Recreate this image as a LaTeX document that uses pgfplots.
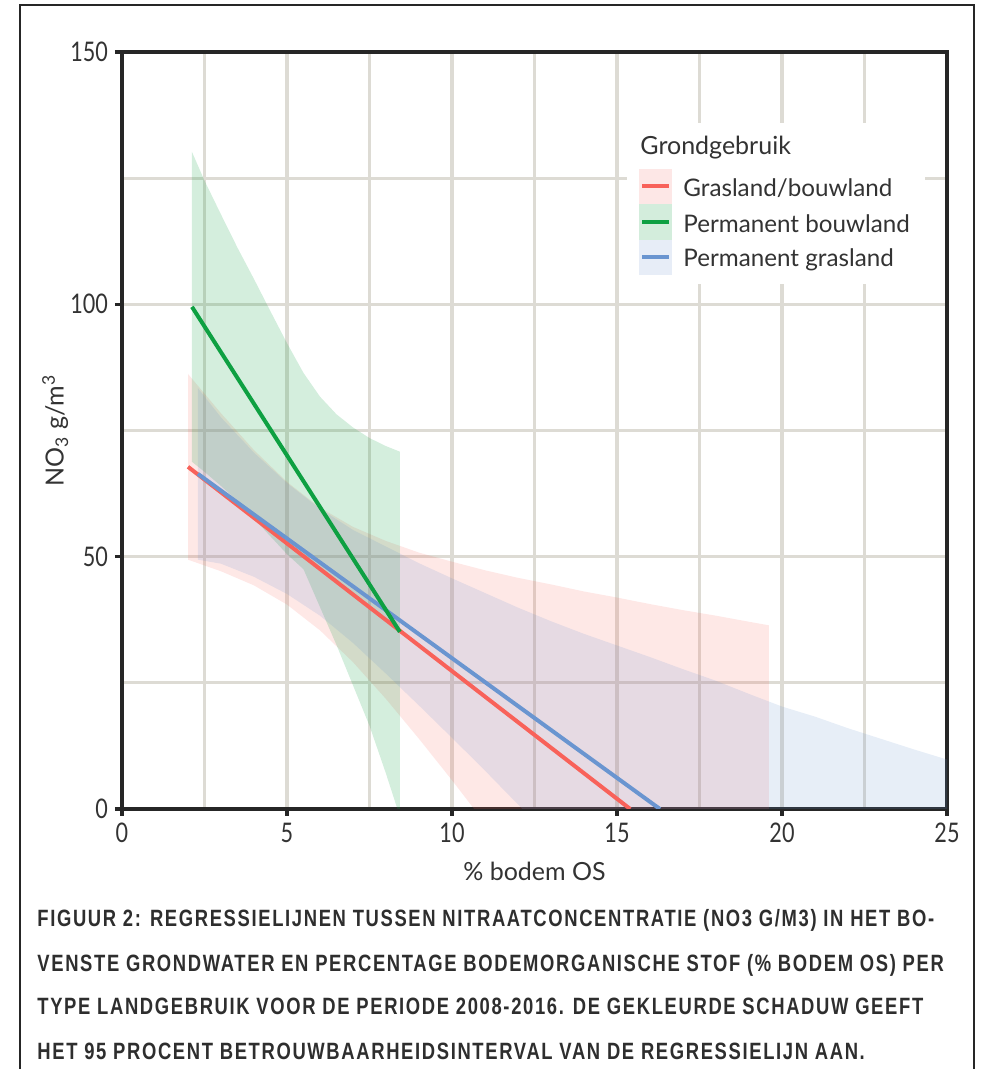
\documentclass[border=0pt]{standalone}
\usepackage{fontspec}
\setmainfont{Lato}
\newfontfamily\numfont[FakeStretch=0.8]{Lato}
\newfontfamily\capfont[FakeStretch=0.78,LetterSpace=7]{Liberation Sans}
\usepackage{pgfplots}
\pgfplotsset{compat=1.18}

\definecolor{gridc}{RGB}{221,219,212}
\definecolor{cRed}{RGB}{248,98,90}
\definecolor{cGreen}{RGB}{14,160,66}
\definecolor{cBlue}{RGB}{106,149,208}
\definecolor{txt}{RGB}{51,51,51}

\begin{document}
\begin{tikzpicture}
\useasboundingbox (0,0) rectangle (492pt,534.5pt);
% frame round the figure
\draw[line width=1pt, black!85] (10pt,0) -- (10pt,532pt) -- (487pt,532pt) -- (487pt,0);

\begin{axis}[
    at={(61pt,130pt)}, anchor=south west,
    width=412.5pt, height=378.5pt, scale only axis,
    xmin=0, xmax=25, ymin=0, ymax=150,
    xtick={0,5,...,25}, ytick={0,50,100,150},
    minor xtick={2.5,7.5,...,22.5}, minor ytick={25,75,125},
    grid=both,
    major grid style={gridc, line width=1.6pt},
    minor grid style={gridc, line width=1.6pt},
    axis line style={line width=1.8pt, black!85},
    tick style={line width=1.8pt, black!85},
    tick align=outside, major tick length=3.5pt, minor tick length=0pt,
    xtick pos=left, ytick pos=left,
    ticklabel style={font=\numfont\fontsize{13.5}{14}\selectfont, text=txt},
    /pgf/number format/assume math mode=true,
    xlabel={\% bodem OS},
    ylabel={NO\textsubscript{3} g/m\textsuperscript{3}},
    label style={font=\fontsize{12.5}{14}\selectfont, text=txt},
    xlabel style={at={(axis description cs:0.5,-0.083)}, anchor=center},
    ylabel style={at={(axis description cs:-0.081,0.5)}, anchor=center},
]
% 95% bands
\addplot[draw=none, fill=cRed, fill opacity=0.15] coordinates {
    (2,86.2) (3,78.4) (4,71.1) (5,64.8) (6,59.7) (7,55.9) (8,53.1) (9,50.8)
    (10,49.0) (11,47.3) (12,45.8) (13,44.5) (14,43.1) (15,41.9) (16,40.6)
    (17,39.4) (18,38.3) (19,37.1) (19.6,36.4)
    (19.6,-78.9) (19,-73.5) (18,-64.6) (17,-55.6) (16,-46.7) (15,-37.8)
    (14,-29.0) (13,-20.2) (12,-11.4) (11,-2.8) (10,5.7) (9,13.9) (8,21.8)
    (7,29.1) (6,35.4) (5,40.5) (4,44.3) (3,47.1) (2,49.4)
} -- cycle;
\addplot[draw=none, fill=cGreen, fill opacity=0.18] coordinates {
    (2.12,130.2) (2.5,124.5) (3,117.8) (3.5,111.2) (4,105) (4.5,98.6) (5,92.3)
    (5.5,86.4) (6,81.7) (6.5,78.2) (7,75.6) (7.5,73.5) (8,71.9) (8.42,70.8)
    (8.42,-1.5) (8,7) (7.5,16.5) (7,24.5) (6.5,32.5) (6,40) (5.5,47.5)
    (5,50.5) (4.5,54) (4,57.5) (3.5,61) (3,64) (2.5,66.8) (2.12,68.8)
} -- cycle;
\addplot[draw=none, fill=cBlue, fill opacity=0.16] coordinates {
    (2.3,83.4) (3,77.6) (4,70.6) (5,64.6) (6,59.5) (7,55.3) (8,52.0) (9,48.7)
    (10,45.7) (11,42.8) (12,39.9) (13,37.2) (14,34.7) (15,32.4) (16,30.1)
    (17,27.7) (18,25.4) (19,22.8) (20,20.3) (21,18.3) (22,16.0) (23,13.9)
    (24,11.8) (25,9.8)
    (25,-92.2) (20,-55.3) (16,-27.1) (14,-12.9) (13,-5.8) (12,0.9) (11,7.6)
    (10,14.1) (9,20.5) (8,26.8) (7,32.9) (6,38.3) (5,42.6) (4,46.0)
    (3,48.6) (2.3,49.4)
} -- cycle;
% regression lines
\addplot[cRed, line width=2pt] coordinates {(2.0,67.8) (15.4,0)};
\addplot[cBlue, line width=2pt] coordinates {(2.3,66.4) (16.3,0)};
\addplot[cGreen, line width=2pt] coordinates {(2.12,99.5) (8.42,35.1)};
\end{axis}

% legend
\fill[white] (313.5pt,392.5pt) rectangle (462.5pt,473pt);
\node[anchor=base west, inner sep=0pt, text=txt, font=\fontsize{12.5}{14}\selectfont] at (320pt,457pt) {Grondgebruik};
\fill[cRed, opacity=0.15] (319.5pt,432.5pt) rectangle (336pt,450pt);
\fill[cGreen, opacity=0.18] (319.5pt,414.5pt) rectangle (336pt,432.5pt);
\fill[cBlue, opacity=0.16] (319.5pt,397pt) rectangle (336pt,414.5pt);
\draw[cRed, line width=2pt] (321pt,441.25pt) -- (334.5pt,441.25pt);
\draw[cGreen, line width=2pt] (321pt,423.5pt) -- (334.5pt,423.5pt);
\draw[cBlue, line width=2pt] (321pt,405.75pt) -- (334.5pt,405.75pt);
\begin{scope}[every node/.style={anchor=base west, inner sep=0pt, text=txt, font=\fontsize{12.1}{14}\selectfont}]
\node at (341.5pt,436pt) {Grasland/bouwland};
\node at (341.5pt,418.2pt) {Permanent bouwland};
\node at (341.5pt,401.2pt) {Permanent grasland};
\end{scope}

% caption
\begin{scope}[every node/.style={anchor=base west, inner sep=0pt, text=black!82, font=\capfont\bfseries\fontsize{11.8}{13}\selectfont}]
\node at (18.5pt,71.25pt) {FIGUUR 2: REGRESSIELIJNEN TUSSEN NITRAATCONCENTRATIE (NO3 G/M3) IN HET BO-};
\node at (18.5pt,48.75pt) {VENSTE GRONDWATER EN PERCENTAGE BODEMORGANISCHE STOF (\% BODEM OS) PER};
\node at (18.5pt,27.25pt) {TYPE LANDGEBRUIK VOOR DE PERIODE 2008-2016. DE GEKLEURDE SCHADUW GEEFT};
\node at (18.5pt,4.75pt) {HET 95 PROCENT BETROUWBAARHEIDSINTERVAL VAN DE REGRESSIELIJN AAN.};
\end{scope}
\end{tikzpicture}
\end{document}
